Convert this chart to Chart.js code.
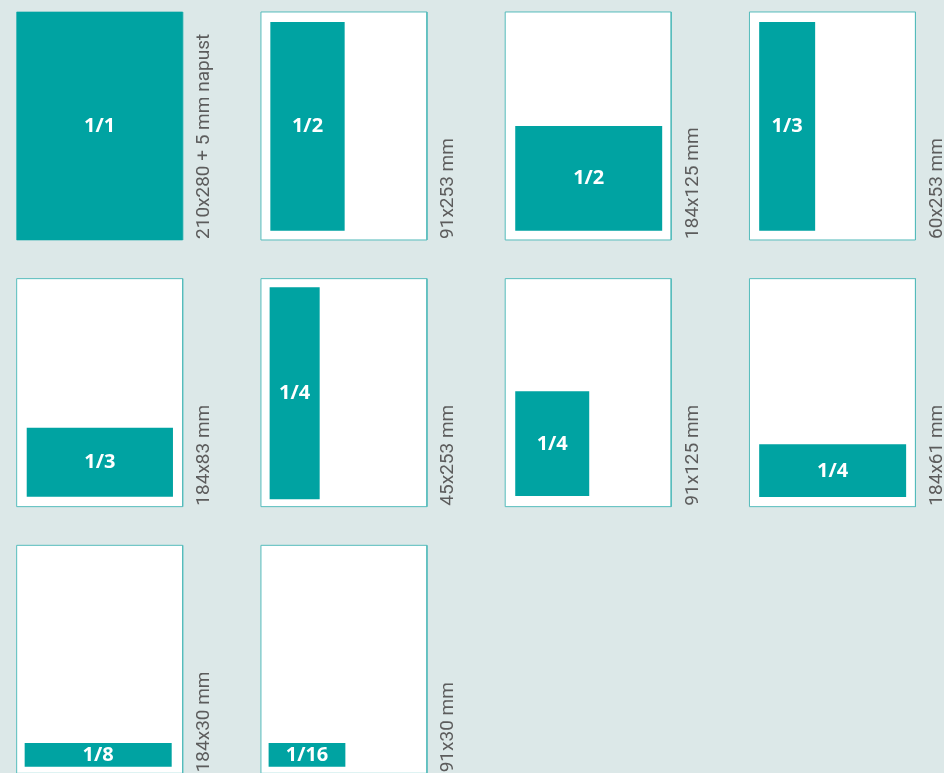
<!DOCTYPE html>
<html>
<head>
<meta charset="utf-8">
<script src="https://cdn.jsdelivr.net/npm/chart.js@4/dist/chart.umd.min.js"></script>
<style>
  html, body { margin: 0; padding: 0; background: #dce8e8; }
  #wrap { width: 944px; height: 773px; overflow: hidden; }
</style>
</head>
<body>
<div id="wrap"><canvas id="formatsChart" width="944" height="773"></canvas></div>
<script>
// ad formats, one page each, in reading order (4 pages per row)
const adLabels = ['1/1', '1/2', '1/2', '1/3', '1/3', '1/4', '1/4', '1/4', '1/8', '1/16'];
const adCaptions = [
  '210x280 + 5 mm napust', '91x253 mm', '184x125 mm', '60x253 mm',
  '184x83 mm', '45x253 mm', '91x125 mm', '184x61 mm',
  '184x30 mm', '91x30 mm'
];

// page size in mm
const pageW = 210;
const pageH = 280;

// block extents inside the page, mm (as drawn)
const adLeft   = [0,   11.9,  12.7,  12.3,  12.7,  11,    12.7,  12.3,  10.1,  9.7];
const adRight  = [210, 105.9, 198.6, 83.1,  197.7, 74.3,  106.3, 198.2, 196.1, 106.8];
const adTop    = [0,   12.3,  140,   12.3,  183,   10.7,  138.4, 203.5, 242.8, 242.8];
const adBottom = [280, 268.6, 268.6, 268.6, 267.7, 271,   267,   268.2, 271.9, 271.9];

const TEAL = '#00a3a2';
const PAGE_BORDER = '#55bcbc';
const CAPTION = '#5c5c5c';
const PER_ROW = 4;
const COL_PITCH = 309;
const ROW_PITCH = 327.5;

const pageX = (i) => (i % PER_ROW) * COL_PITCH;
const pageY = (i) => Math.floor(i / PER_ROW) * ROW_PITCH;

function rect(x0, x1, y0, y1) {
  return [
    { x: x0, y: y0 }, { x: x1, y: y0 }, { x: x1, y: y1 },
    { x: x0, y: y1 }, { x: x0, y: y0 }
  ];
}

const datasets = [];

// ad blocks first so they sit on top of the pages
adLabels.forEach((label, i) => {
  const ox = pageX(i), oy = pageY(i);
  datasets.push({
    label: label,
    data: rect(ox + adLeft[i], ox + adRight[i], oy + adTop[i], oy + adBottom[i]),
    showLine: true,
    fill: 'shape',
    backgroundColor: TEAL,
    borderColor: TEAL,
    borderWidth: 0,
    pointRadius: 0,
    tension: 0
  });
});

adLabels.forEach((label, i) => {
  const ox = pageX(i), oy = pageY(i);
  datasets.push({
    label: 'page ' + (i + 1),
    data: rect(ox, ox + pageW, oy, oy + pageH),
    showLine: true,
    fill: 'shape',
    backgroundColor: '#ffffff',
    borderColor: PAGE_BORDER,
    borderWidth: 1,
    borderJoinStyle: 'miter',
    pointRadius: 0,
    tension: 0
  });
});

// labels inside blocks + rotated size captions
const textPlugin = {
  id: 'formatText',
  afterDatasetsDraw(chart) {
    const { ctx, scales: { x, y } } = chart;
    ctx.save();
    adLabels.forEach((label, i) => {
      const ox = pageX(i), oy = pageY(i);
      const cx = x.getPixelForValue(ox + (adLeft[i] + adRight[i]) / 2);
      const cy = y.getPixelForValue(oy + (adTop[i] + adBottom[i]) / 2);
      ctx.fillStyle = '#ffffff';
      ctx.font = 'bold 20px "Open Sans"';
      ctx.textAlign = 'center';
      ctx.textBaseline = 'alphabetic';
      ctx.fillText(label, cx, cy + 6);

      const bx = x.getPixelForValue(ox + pageW + 33.3);
      const by = y.getPixelForValue(oy + pageH) - 1;
      ctx.save();
      ctx.translate(bx, by);
      ctx.rotate(-Math.PI / 2);
      ctx.fillStyle = CAPTION;
      ctx.font = '19px Roboto';
      ctx.textAlign = 'left';
      ctx.fillText(adCaptions[i], 0, 0);
      ctx.restore();
    });
    ctx.restore();
  }
};

new Chart(document.getElementById('formatsChart').getContext('2d'), {
  type: 'scatter',
  data: { datasets },
  options: {
    responsive: false,
    animation: false,
    events: [],
    layout: { padding: 0 },
    plugins: { legend: { display: false }, tooltip: { enabled: false } },
    scales: {
      x: { type: 'linear', min: -21.1, max: 1173.1, display: false },
      y: { type: 'linear', reverse: true, min: -14.7, max: 934.6, display: false }
    }
  },
  plugins: [textPlugin]
});
</script>
</body>
</html>
